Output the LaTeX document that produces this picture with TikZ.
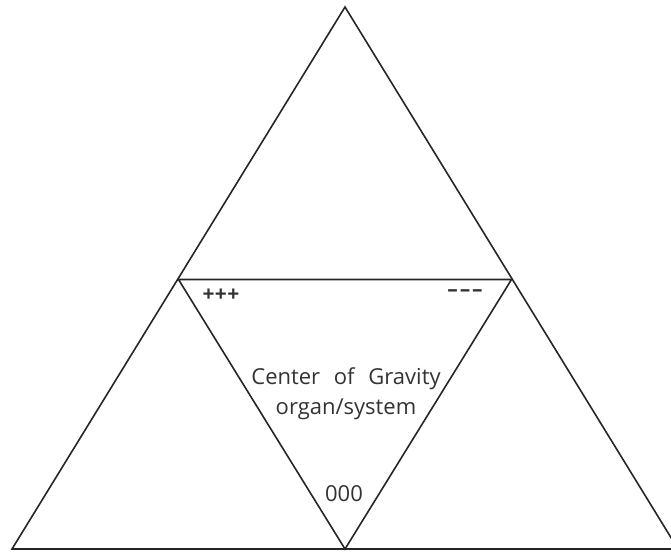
\documentclass[tikz,border=0pt]{standalone}
\usepackage{fontspec}
\setmainfont{Open Sans}
\begin{document}
\begin{tikzpicture}[x=1pt,y=-1pt,
  edge/.style={draw=black!85,line width=1.6pt,line join=miter},
  lbl/.style={font=\fontsize{22}{30}\selectfont,text=black!80,inner sep=0pt}]
\useasboundingbox (0,0) rectangle (671,552);
\coordinate (A) at (345,7);
\coordinate (L) at (12,549);
\coordinate (R) at (678,549);
\coordinate (ML) at (178.5,279.5);
\coordinate (MR) at (511.5,279.5);
\coordinate (MB) at (345,549);
\begin{scope}
\clip (0,0) rectangle (671,552);
\draw[edge] (A) -- (L) -- (R) -- cycle;
\draw[edge] (ML) -- (MR) -- (MB) -- cycle;
\end{scope}
\node[lbl,font=\fontsize{21}{30}\selectfont\bfseries] (plus) at (221,295) {+\kern0.5pt+\kern0.5pt+};
\node[lbl,font=\fontsize{21}{30}\selectfont\bfseries] (minus) at (465,293) {\textendash\kern2pt\textendash\kern2pt\textendash};
\node[lbl,align=center] (cog) at (346,394) {Center\hspace{8pt} of\hspace{8pt} Gravity\\organ/system};
\node[lbl] (zero) at (344,494) {000};
\end{tikzpicture}
\end{document}
